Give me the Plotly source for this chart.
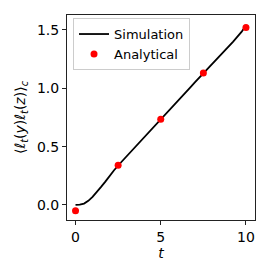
import plotly.graph_objects as go

# Simulation curve
t_sim = [0.0, 0.25, 0.5, 0.75, 1.0, 1.25, 1.5, 1.75, 2.0, 2.25, 2.5,
         2.75, 3.0, 3.25, 3.5, 3.75, 4.0, 4.25, 4.5, 4.75, 5.0,
         5.25, 5.5, 5.75, 6.0, 6.25, 6.5, 6.75, 7.0, 7.25, 7.5,
         7.75, 8.0, 8.25, 8.5, 8.75, 9.0, 9.25, 9.5, 9.75, 10.0]
y_sim = [0.0, 0.002, 0.012, 0.035, 0.07, 0.11, 0.155, 0.2, 0.25, 0.295, 0.338,
         0.377, 0.418, 0.455, 0.497, 0.535, 0.575, 0.612, 0.655, 0.693, 0.735,
         0.772, 0.812, 0.85, 0.892, 0.93, 0.968, 1.01, 1.05, 1.088, 1.128,
         1.165, 1.207, 1.245, 1.285, 1.325, 1.362, 1.40, 1.442, 1.485, 1.54]

# Analytical points
t_ana = [0.0, 2.5, 5.0, 7.5, 10.0]
y_ana = [-0.05, 0.34, 0.735, 1.13, 1.52]

x_ticks = [0, 5, 10]
y_ticks = [0.0, 0.5, 1.0, 1.5]

FONT = "DejaVu Sans"

fig = go.Figure()
fig.add_trace(go.Scatter(x=t_sim, y=y_sim, mode="lines", name="Simulation",
                         line=dict(color="black", width=1.8)))
fig.add_trace(go.Scatter(x=t_ana, y=y_ana, mode="markers", name="Analytical",
                         marker=dict(color="#ff0000", size=7)))

axis_common = dict(showgrid=False, zeroline=False, showline=True, linecolor="#222222",
                   linewidth=1.1, mirror=True, ticks="outside", ticklen=4,
                   tickcolor="#222222", tickwidth=1,
                   tickfont=dict(family=FONT, size=14, color="black"))

fig.update_layout(
    width=275, height=275,
    margin=dict(l=67, r=20, t=15, b=55),
    paper_bgcolor="white", plot_bgcolor="white",
    font=dict(family=FONT, size=13, color="black"),
    xaxis=dict(range=[-0.5, 10.53], tickvals=x_ticks, ticktext=[str(v) for v in x_ticks],
               title=dict(text="<i>t</i>", standoff=1, font=dict(family=FONT, size=14)),
               **axis_common),
    yaxis=dict(range=[-0.129, 1.628], tickvals=y_ticks,
               ticktext=[f"{v:.1f}" for v in y_ticks],
               title=dict(text="⟨<i>ℓ</i><sub><i>t</i></sub>(<i>y</i>)<i>ℓ</i><sub><i>t</i></sub>(<i>z</i>)⟩<sub><i>c</i></sub>",
                          standoff=7, font=dict(family=FONT, size=14)),
               **axis_common),
    legend=dict(x=0.032, y=0.985, xanchor="left", yanchor="top",
                bgcolor="white", bordercolor="#cccccc", borderwidth=1,
                font=dict(family=FONT, size=13), itemwidth=30,
                tracegroupgap=0),
    showlegend=True,
)

fig.write_html("out.html", config={"displayModeBar": False},
               post_script="document.body.style.margin='0';")
